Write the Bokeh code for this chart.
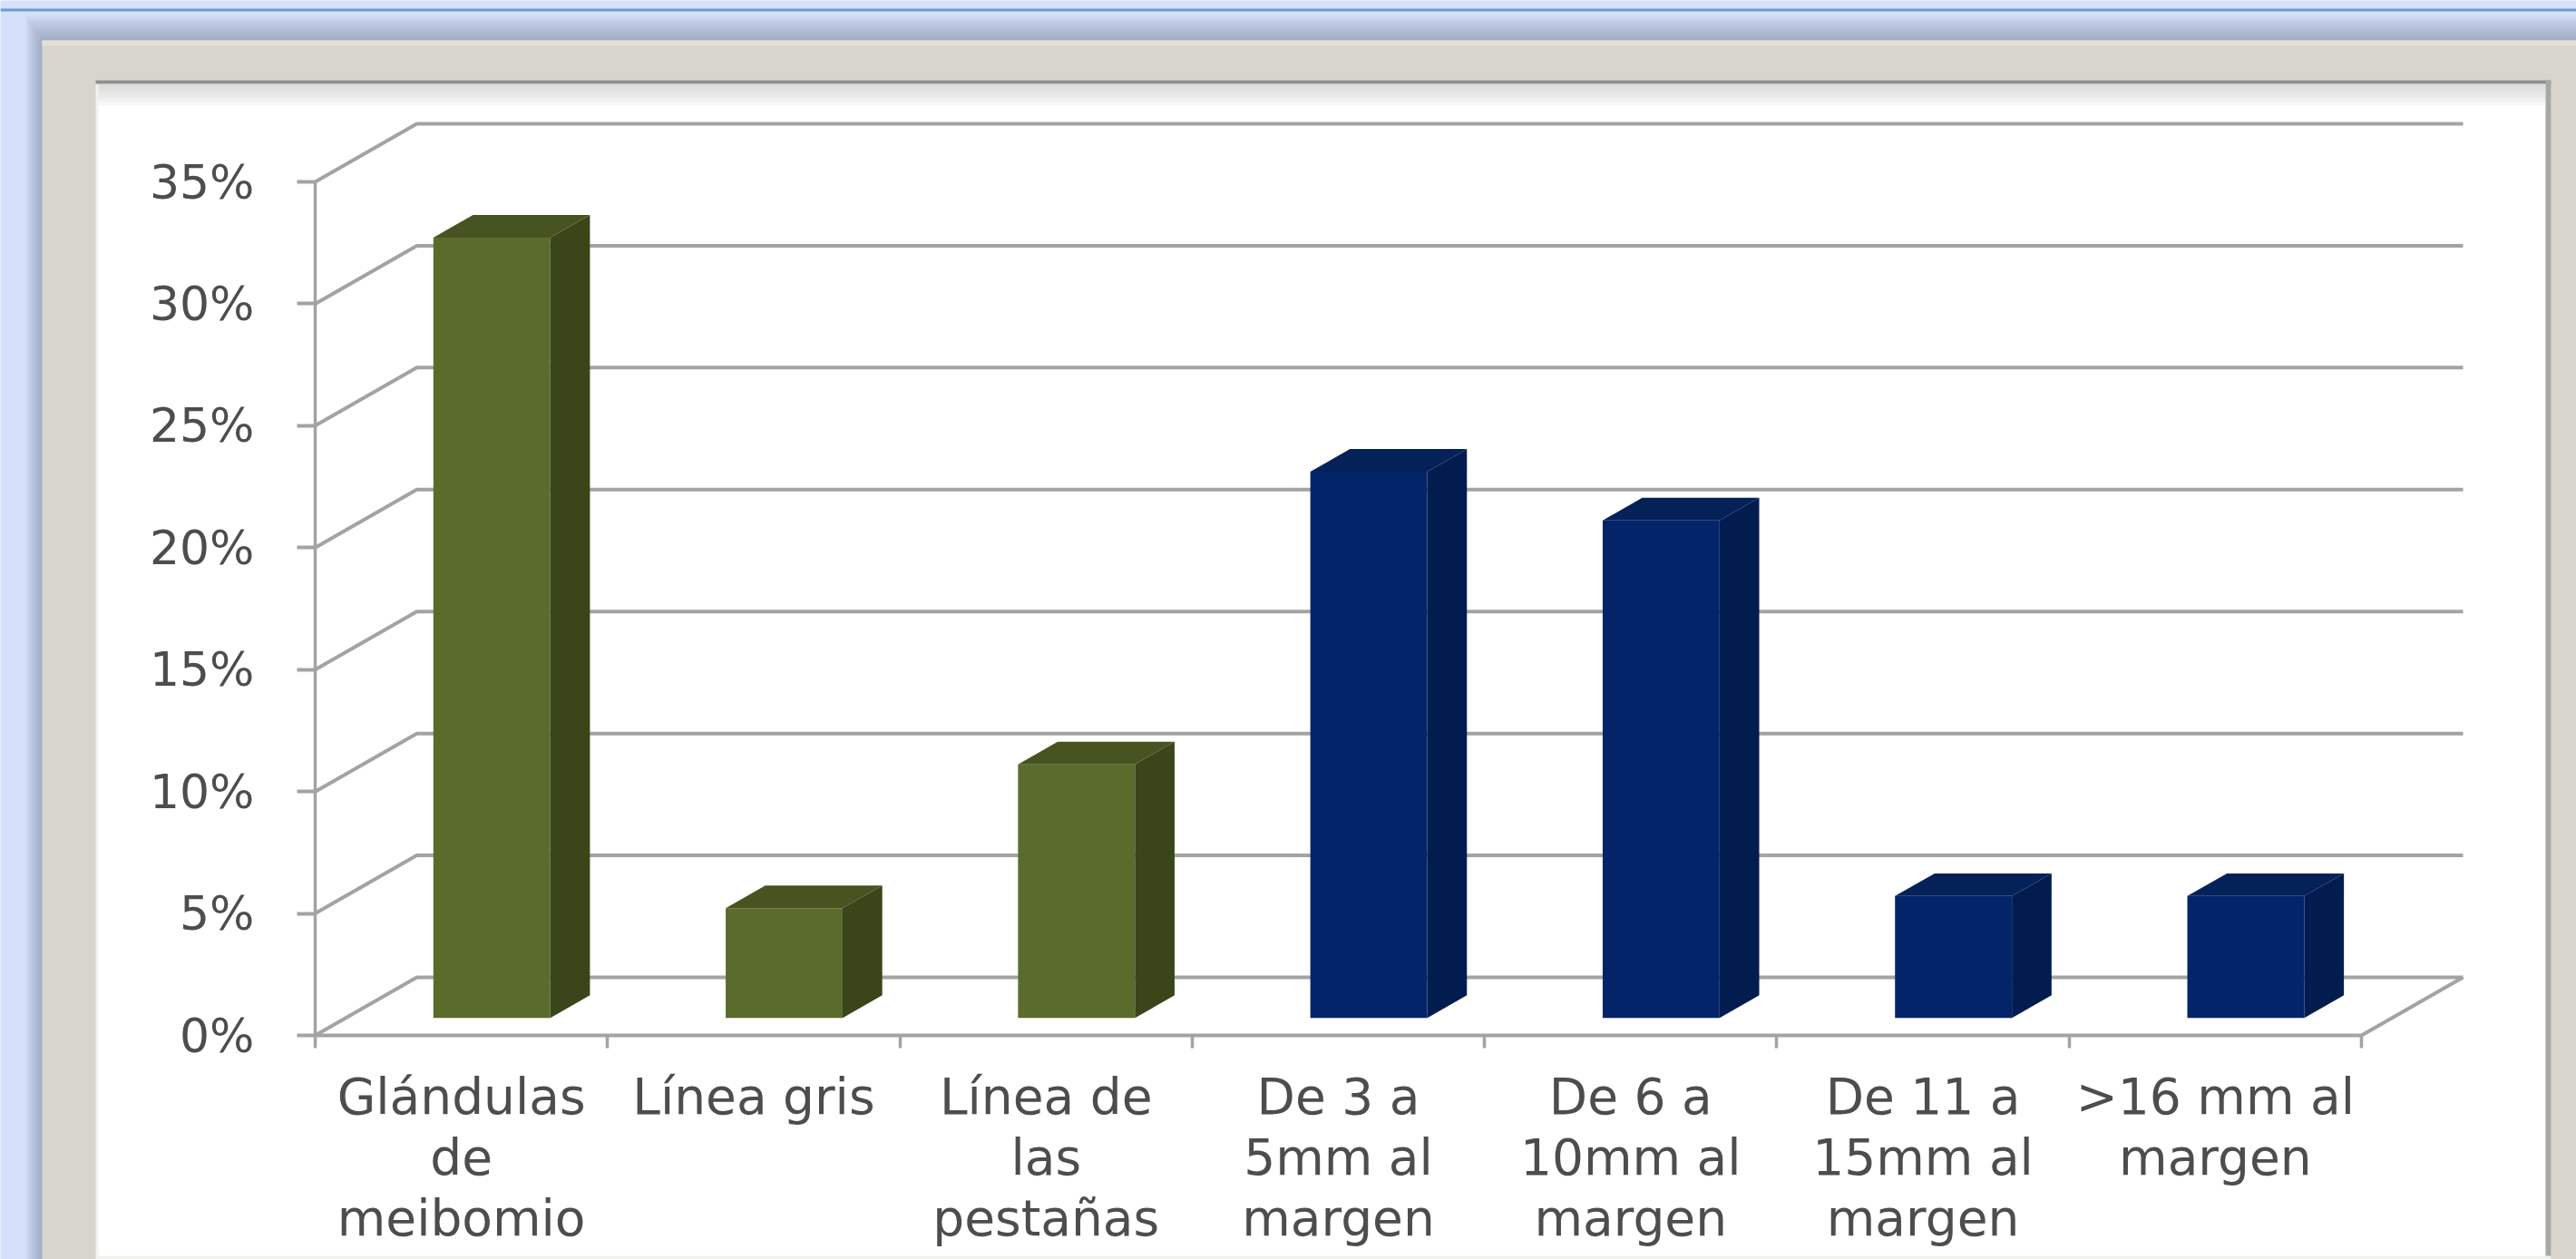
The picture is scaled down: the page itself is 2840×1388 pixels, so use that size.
from bokeh.plotting import figure
from bokeh.models import (LinearAxis, FixedTicker, PrintfTickFormatter, BoxAnnotation, Range1d)
from bokeh.embed import file_html
from bokeh.resources import INLINE

# ---------- data ----------
categories = ["Glándulas\nde\nmeibomio", "Línea gris", "Línea de\nlas\npestañas",
              "De 3 a\n5mm al\nmargen", "De 6 a\n10mm al\nmargen",
              "De 11 a\n15mm al\nmargen", ">16 mm al\nmargen"]
values = [32.0, 4.5, 10.4, 22.4, 20.4, 5.0, 5.0]
y_ticks = [0, 5, 10, 15, 20, 25, 30, 35]

# ---------- styles ----------
GREEN = ("#5a6b2c", "#3a4519", "#475422")   # front, side, top
BLUE = ("#04246a", "#031c50", "#042158")
bar_styles = [GREEN, GREEN, GREEN, BLUE, BLUE, BLUE, BLUE]
GRID = "#a3a3a3"
TEXT = "#4d4d4d"
FONT = "DejaVu Sans"

# ---------- layout (page pixels) ----------
W, H = 2840, 1388
X0_PX, X7_PX = 347, 2603      # front of the floor: first / last category edge
Y0_PX, Y35_PX = 1141, 200     # front axis: 0 % / 35 %
sx = (X7_PX - X0_PX) / 7
sy = (Y0_PX - Y35_PX) / 35
DX = 112 / sx                 # oblique depth of the chart box, data units
DY = 64 / sy
BAR_DEPTH_FRONT = 0.30        # fraction of the box depth
BAR_DEPTH_BACK = 0.69
BAR_W = 0.40

p = figure(width=W, height=H, output_backend="svg", toolbar_location=None,
           x_axis_type=None, y_axis_type=None, min_border=0,
           x_range=Range1d(-X0_PX / sx, (W - X0_PX) / sx),
           y_range=Range1d((Y0_PX - H) / sy, Y0_PX / sy),
           background_fill_color="#d5e1fb", border_fill_color="#d5e1fb")
p.outline_line_color = None
p.grid.visible = False


def box(l, t, r, b, color, alpha=1.0):
    # screen-unit boxes count y from the bottom of the canvas
    p.add_layout(BoxAnnotation(left=l, right=r, top=H - t, bottom=H - b,
                               left_units="screen", right_units="screen",
                               top_units="screen", bottom_units="screen",
                               fill_color=color, fill_alpha=alpha, line_color=None,
                               level="underlay"))


# slide chrome
box(0, 9, 2840, 12, "#6d9ad2")
for i in range(10):                      # soft shadow round the frame
    box(46 - 2 * i, 44 - 3 * i, 2840, 1388, "#8a8fa8", 0.09)
box(46, 44, 2840, 1388, "#d8d5cc")
box(46, 44, 2840, 50, "#e2dfd8")         # lighter top bevel of the frame
box(105, 88, 2812, 1388, "#f2f2ef")      # bright lip of the inner mat
box(108, 92, 2806, 1384, "#ffffff")
box(105, 88, 2812, 92, "#8f8f8c")        # dark top edge
box(2806, 88, 2812, 1384, "#a8a8a6")     # grey right edge
for i in range(6):                       # inner shadow below the top edge
    box(108, 92, 2806, 92 + 4 * (6 - i), "#c4c4c4", 0.12)

# walls and floor of the 3-D box: back gridlines
xs, ys = [], []
for v in y_ticks:
    xs.append([0, DX, 7 + DX])
    ys.append([v, v + DY, v + DY])
xs.append([7, 7 + DX])
ys.append([0, DY])
p.multi_line(xs, ys, line_color=GRID, line_width=4)

# bars: front, side and top faces
for i, (v, style) in enumerate(zip(values, bar_styles)):
    ox, oy = BAR_DEPTH_FRONT * DX, BAR_DEPTH_FRONT * DY
    bx, by = BAR_DEPTH_BACK * DX, BAR_DEPTH_BACK * DY
    xl = i + 0.5 - BAR_W / 2
    xr = i + 0.5 + BAR_W / 2
    front, side, top = style
    p.patch([xr + ox, xr + bx, xr + bx, xr + ox],
            [oy, by, v + by, v + oy], fill_color=side, line_color=None)
    p.patch([xl + ox, xl + bx, xr + bx, xr + ox],
            [v + oy, v + by, v + by, v + oy], fill_color=top, line_color=None)
    p.quad(left=xl + ox, right=xr + ox, bottom=oy, top=v + oy,
           fill_color=front, line_color=None)

# axes placed at the front corner of the box
yaxis = LinearAxis(fixed_location=0, bounds=(0, 35),
                   ticker=FixedTicker(ticks=y_ticks),
                   formatter=PrintfTickFormatter(format="%d%%"),
                   axis_line_color=GRID, axis_line_width=3.5,
                   major_tick_line_color=GRID, major_tick_line_width=4,
                   major_tick_out=20, major_tick_in=0,
                   minor_tick_line_color=None,
                   major_label_standoff=47,
                   major_label_text_font=FONT, major_label_text_font_size="52px",
                   major_label_text_color=TEXT)
p.add_layout(yaxis, "left")

centers = [i + 0.5 for i in range(len(categories))]
edges = list(range(len(categories) + 1))
xaxis = LinearAxis(fixed_location=0, bounds=(0, 7),
                   ticker=FixedTicker(ticks=centers, minor_ticks=edges),
                   major_label_overrides={c: t for c, t in zip(centers, categories)},
                   axis_line_color=GRID, axis_line_width=4,
                   major_tick_line_color=None,
                   minor_tick_line_color=GRID, minor_tick_line_width=3.5,
                   minor_tick_out=14, minor_tick_in=0,
                   major_tick_out=14, major_tick_in=0,
                   major_label_standoff=21,
                   major_label_text_font=FONT, major_label_text_font_size="55px",
                   major_label_text_color=TEXT, major_label_text_line_height=1.05)
p.add_layout(xaxis, "below")

open("out.html", "w").write(file_html(p, INLINE))
